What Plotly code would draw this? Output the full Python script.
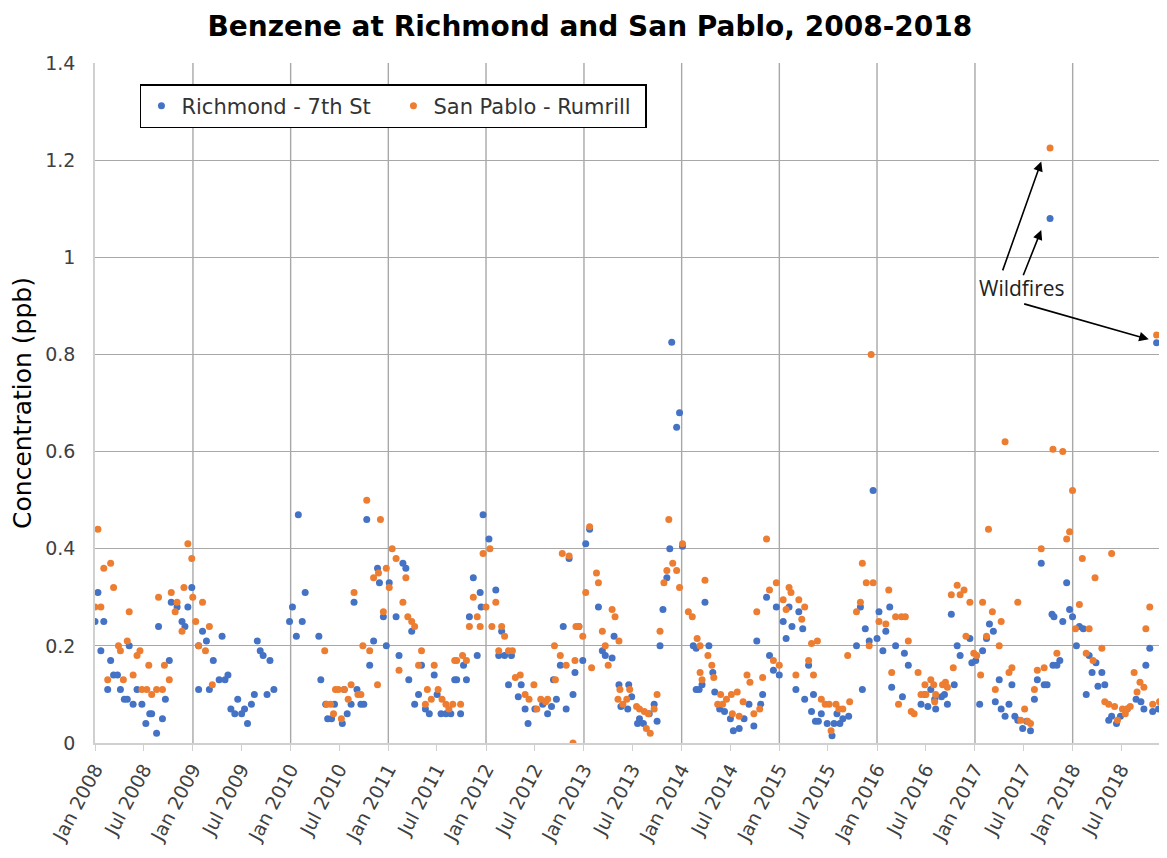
import pandas as pd
import plotly.graph_objects as go

# ---- data (decimal year, concentration ppb) ----
richmond_t = [
2008.03,2008.00,2008.09,2008.06,2008.16,2008.35,2008.19,2008.23,2008.13,2008.26,2008.30,2008.33,2008.39,2008.48,2008.43,
2008.56,2008.58,2008.52,2008.63,2008.69,2008.72,2008.76,2008.65,2008.78,2008.84,2008.95,2008.89,2008.92,2008.99,2009.06,
2009.10,2009.14,2009.21,2009.06,2009.17,
2009.30,2009.27,2009.33,2009.36,2009.46,2009.39,2009.43,2009.50,2009.53,2009.56,2009.60,2009.63,2009.66,2009.69,2009.72,
2009.79,2009.76,2009.83,2010.08,2010.02,2009.99,2010.15,2010.12,2010.06,2010.29,2010.31,2010.36,2010.38,2010.42,
2010.78,2010.89,2010.91,2011.01,2011.15,2011.18,2010.65,2010.95,2011.08,2011.24,2010.85,2010.98,2011.11,2010.81,2011.21,
2011.34,2011.47,2011.68,2011.31,2011.27,2011.50,2011.38,2011.42,2011.54,2011.59,2011.64,2010.55,2010.68,2010.62,2010.72,
2010.75,2010.53,2010.58,2010.45,
2011.97,2012.03,2011.87,2011.94,2011.95,2012.10,2011.83,2012.16,2011.91,2012.13,2012.19,2012.26,2011.77,2011.70,2011.80,
2011.74,2012.23,2012.36,2012.33,2012.40,2012.43,2012.50,2012.58,2012.63,2012.67,2012.72,2012.82,2012.89,2012.79,2012.85,
2012.76,2012.69,2012.91,
2013.98,2013.95,2013.06,2013.02,2013.88,2014.01,2013.85,2013.15,2013.81,2012.95,2013.31,2013.78,2013.19,2013.22,2013.29,
2012.99,2013.36,2013.46,2013.49,2013.38,2013.45,2013.57,2013.55,2013.61,2013.67,2013.72,2013.75,2014.12,2014.15,2013.90,
2014.24,2014.28,2014.15,2014.32,2014.18,2014.21,2014.34,2014.39,2014.44,2014.50,2014.53,2014.59,2014.64,2014.69,2014.74,
2014.81,2014.83,2014.77,2014.87,2014.90,2014.94,2015.00,2014.97,2015.04,2015.10,2015.07,2015.13,2015.20,2015.24,2015.17,
2015.30,2015.26,2015.35,2015.33,2015.37,
2015.96,2015.83,2016.02,2016.13,2015.88,2016.09,2016.00,2015.92,2015.79,2016.06,2016.19,2016.28,2016.32,2016.15,2016.26,
2015.85,2015.43,2015.40,2015.49,2015.56,2015.62,2015.59,2015.65,2015.71,2015.54,2016.45,2016.52,2016.49,2016.55,2016.60,
2016.59,
2017.68,2016.76,2017.15,2017.19,2017.12,2016.95,2016.82,2016.85,2017.08,2016.97,2017.01,2016.79,2016.72,2016.66,2016.69,
2017.05,2017.25,2017.21,2017.27,2017.38,2017.35,2017.31,2017.41,2017.44,2017.49,2017.57,2017.53,2017.61,2017.64,2017.71,
2017.79,2017.80,2017.77,
2017.94,2017.97,2017.81,2017.90,2018.00,2018.07,2018.11,2018.04,2017.87,2017.84,2017.74,2018.17,2018.24,2018.20,2018.30,
2018.26,2018.33,2018.14,2018.40,2018.37,2018.45,2018.49,2018.56,2018.65,2018.70,2018.73,2018.82,2018.88,2018.75,2018.79,
2018.92,2018.96,2018.86,
]
richmond_ppb = [
0.31,0.25,0.25,0.19,0.17,0.20,0.14,0.14,0.11,0.11,0.09,0.09,0.08,0.08,0.11,
0.06,0.06,0.04,0.02,0.05,0.09,0.17,0.24,0.29,0.28,0.28,0.25,0.24,0.32,0.20,
0.23,0.21,0.17,0.11,0.11,
0.22,0.13,0.13,0.14,0.09,0.07,0.06,0.06,0.07,0.04,0.08,0.10,0.21,0.19,0.18,
0.17,0.10,0.11,0.47,0.28,0.25,0.31,0.25,0.22,0.22,0.13,0.08,0.05,0.05,
0.46,0.36,0.33,0.33,0.37,0.36,0.29,0.26,0.26,0.23,0.21,0.20,0.18,0.16,0.13,
0.16,0.14,0.13,0.10,0.08,0.10,0.07,0.06,0.06,0.06,0.06,0.11,0.11,0.08,0.08,
0.08,0.04,0.06,0.08,
0.47,0.42,0.34,0.31,0.28,0.315,0.26,0.23,0.18,0.18,0.18,0.18,0.16,0.13,0.13,
0.06,0.12,0.12,0.095,0.07,0.04,0.07,0.08,0.06,0.075,0.09,0.07,0.10,0.24,0.38,
0.16,0.13,0.145,
0.68,0.65,0.44,0.41,0.40,0.405,0.34,0.28,0.275,0.24,0.22,0.20,0.19,0.18,0.175,
0.17,0.12,0.12,0.095,0.075,0.07,0.05,0.04,0.04,0.06,0.08,0.045,0.20,0.11,0.825,
0.29,0.20,0.195,0.145,0.11,0.12,0.105,0.07,0.065,0.05,0.025,0.03,0.05,0.08,0.035,
0.08,0.10,0.21,0.30,0.18,0.15,0.14,0.28,0.25,0.28,0.215,0.24,0.27,0.235,0.11,
0.16,0.09,0.10,0.065,0.045,
0.52,0.28,0.27,0.28,0.235,0.23,0.215,0.21,0.20,0.19,0.20,0.185,0.16,0.115,0.095,
0.11,0.06,0.045,0.04,0.04,0.04,0.06,0.05,0.055,0.015,0.08,0.075,0.10,0.11,0.07,
0.09,
0.37,0.265,0.245,0.23,0.215,0.215,0.20,0.18,0.19,0.165,0.17,0.12,0.08,0.095,0.10,
0.08,0.13,0.085,0.07,0.12,0.08,0.055,0.055,0.047,0.03,0.025,0.045,0.09,0.13,0.12,
0.265,0.16,1.08,
0.33,0.275,0.26,0.25,0.26,0.24,0.235,0.20,0.17,0.16,0.12,0.18,0.165,0.145,0.145,
0.117,0.12,0.10,0.055,0.047,0.04,0.055,0.07,0.09,0.085,0.07,0.065,0.07,0.16,0.195,
0.19,0.17,0.824,
]

sanpablo_t = [
2008.03,2008.09,2008.16,2008.19,2008.00,2008.06,2008.35,2008.65,2008.78,2008.84,2008.82,2008.91,2008.95,2008.99,2009.00,
2009.10,2009.03,2009.17,2008.89,2008.33,2008.24,2008.26,2008.43,2008.46,2008.55,2008.71,2008.39,2008.13,2008.29,2008.76,
2008.48,2008.53,2008.58,2008.63,2008.69,2009.06,2009.13,2009.20,
2010.35,2010.46,2010.37,2010.41,2010.44,
2010.78,2010.92,2011.04,2011.08,2010.98,2010.90,2010.85,2011.18,2011.01,2010.65,2011.15,2010.95,2011.20,2011.24,2011.27,
2010.74,2010.81,2011.34,2011.31,2011.47,2011.11,2010.89,2010.62,2010.49,2010.55,2010.69,2010.72,2011.40,2011.51,2011.44,
2011.38,2011.55,2011.59,2011.62,2011.68,2010.52,2010.59,2011.66,
2011.97,2012.04,2011.87,2011.91,2012.00,2012.10,2011.83,2011.94,2012.06,2012.16,2012.19,2012.13,2012.23,2012.27,2011.76,
2011.70,2011.80,2011.74,2012.30,2012.35,2012.40,2012.44,2012.49,2012.52,2012.56,2012.61,2012.63,2012.78,2012.85,2012.70,
2012.76,2012.82,2012.71,2012.92,2012.91,2012.89,
2013.06,2013.13,2013.15,2013.02,2013.29,2013.32,2012.95,2012.99,2013.19,2013.36,2013.22,2013.08,2013.25,2013.37,2013.35,
2013.40,2013.44,2013.47,2013.54,2013.57,2013.62,2013.66,2013.64,2013.68,2013.72,2013.75,2013.87,2014.01,2013.91,2013.85,
2013.95,2013.82,2013.98,2014.07,2014.11,2013.78,2014.16,2014.19,2014.19,
2014.24,2014.27,2014.31,2014.21,2014.33,2014.40,2014.46,2014.51,2014.57,2014.37,2014.42,2014.52,2014.59,2014.63,2014.74,
2014.67,2014.70,2014.83,2014.80,2014.77,2014.87,2014.90,2014.97,2015.04,2015.07,2015.10,2015.12,2015.20,2015.26,2015.23,
2014.94,2015.00,2015.17,2015.30,2015.33,2015.35,
2015.39,2015.43,2015.47,2015.51,2015.58,2015.61,2015.65,2015.72,2015.53,2015.70,2015.79,2015.83,2015.85,2015.89,2015.96,
2015.92,2016.02,2016.09,2016.12,2016.19,2016.25,2016.29,2016.32,2016.15,2016.22,2016.35,2016.38,2016.42,2016.49,2016.55,
2016.58,2016.45,2016.50,2015.94,
2017.31,2017.14,2017.68,2016.82,2016.89,2016.76,2016.85,2017.44,2016.95,2017.08,2017.18,2017.27,2016.91,2017.12,2017.25,
2016.99,2017.02,2016.78,2017.06,2017.38,2017.35,2017.21,2017.51,2017.54,2017.57,2017.47,2017.64,2017.71,2017.61,2016.60,
2016.67,2016.70,2016.72,2016.59,2017.77,
2017.80,2017.90,2018.00,2017.97,2017.94,2018.10,2018.40,2018.23,2018.07,2018.03,2018.17,2018.79,2018.75,2018.92,2018.30,
2017.84,2018.14,2018.21,2018.63,2018.69,2018.73,2018.66,2018.94,2018.82,2018.89,2018.33,2018.37,2018.43,2018.51,2018.56,
2018.59,2018.46,2018.54,2018.86,
]
sanpablo_ppb = [
0.44,0.36,0.37,0.32,0.28,0.28,0.27,0.30,0.31,0.29,0.27,0.32,0.41,0.38,0.30,
0.29,0.25,0.24,0.23,0.21,0.20,0.19,0.18,0.19,0.16,0.16,0.14,0.13,0.13,0.13,
0.11,0.11,0.10,0.11,0.11,0.20,0.19,0.12,
0.19,0.11,0.08,0.08,0.06,
0.50,0.46,0.40,0.38,0.36,0.35,0.34,0.34,0.32,0.31,0.29,0.27,0.26,0.25,0.24,
0.20,0.19,0.19,0.16,0.16,0.15,0.12,0.12,0.11,0.11,0.10,0.10,0.11,0.11,0.09,
0.08,0.09,0.08,0.07,0.17,0.05,0.09,0.08,
0.39,0.40,0.30,0.26,0.28,0.29,0.24,0.24,0.24,0.24,0.22,0.19,0.19,0.19,0.18,
0.17,0.17,0.08,0.135,0.14,0.10,0.09,0.12,0.07,0.09,0.085,0.09,0.39,0.385,0.20,
0.18,0.16,0.13,0.24,0.17,0.00,
0.445,0.35,0.33,0.31,0.275,0.26,0.24,0.22,0.23,0.21,0.20,0.155,0.16,0.11,0.09,
0.08,0.09,0.11,0.075,0.07,0.065,0.06,0.03,0.02,0.07,0.10,0.46,0.41,0.37,0.355,
0.355,0.33,0.32,0.27,0.26,0.23,0.215,0.20,0.145,
0.335,0.18,0.16,0.13,0.135,0.10,0.09,0.10,0.105,0.08,0.08,0.06,0.055,0.085,0.06,
0.14,0.125,0.135,0.07,0.27,0.42,0.315,0.33,0.295,0.275,0.32,0.31,0.295,0.28,0.255,
0.17,0.16,0.14,0.17,0.205,0.14,
0.21,0.09,0.08,0.08,0.08,0.07,0.07,0.085,0.025,0.18,0.27,0.29,0.37,0.33,0.33,
0.20,0.25,0.245,0.315,0.26,0.26,0.26,0.21,0.145,0.08,0.065,0.06,0.145,0.12,0.13,
0.12,0.10,0.10,0.80,
0.62,0.44,0.40,0.325,0.315,0.305,0.305,0.29,0.29,0.29,0.27,0.25,0.22,0.22,0.20,
0.185,0.18,0.155,0.14,0.155,0.145,0.11,0.07,0.045,0.04,0.047,0.15,0.155,0.11,0.10,
0.12,0.125,0.115,0.085,1.225,
0.605,0.60,0.52,0.435,0.42,0.38,0.39,0.34,0.285,0.235,0.235,0.28,0.235,0.215,0.195,
0.185,0.185,0.17,0.145,0.125,0.115,0.105,0.145,0.08,0.085,0.085,0.08,0.075,0.07,0.07,
0.075,0.047,0.06,0.84,
]

y_ticks = [0, 0.2, 0.4, 0.6, 0.8, 1, 1.2, 1.4]
y_tick_labels = ["0", "0.2", "0.4", "0.6", "0.8", "1", "1.2", "1.4"]
grid_years = list(range(2009, 2019))

BASE = pd.Timestamp("2008-01-01")


def to_date(t):
    return BASE + pd.to_timedelta((t - 2008.0) * 365.25, unit="D")


def dstr(t):
    return to_date(t).strftime("%Y-%m-%d %H:%M")


rich_dates = [to_date(t) for t in richmond_t]
sp_dates = [to_date(t) for t in sanpablo_t]

BLUE = "#4472C4"
ORANGE = "#ED7D31"
FONT = "DejaVu Sans"

fig = go.Figure()
fig.add_trace(go.Scatter(x=rich_dates, y=richmond_ppb, mode="markers",
                         name="Richmond - 7th St",
                         marker=dict(color=BLUE, size=7)))
fig.add_trace(go.Scatter(x=sp_dates, y=sanpablo_ppb, mode="markers",
                         name="San Pablo - Rumrill",
                         marker=dict(color=ORANGE, size=7)))

shapes = []
for yr in grid_years:
    shapes.append(dict(type="line", xref="x", yref="paper",
                       x0=f"{yr}-01-01", x1=f"{yr}-01-01", y0=0, y1=1,
                       line=dict(color="#a8a8a8", width=1.4), layer="below"))

annotations = [
    dict(x=dstr(2017.48), y=0.936, xref="x", yref="y", text="Wildfires",
         showarrow=False, font=dict(family="Open Sans", size=21, color="#222")),
]
arrows = [((2017.68, 1.197), (2017.28, 0.970)),
          ((2017.68, 1.056), (2017.49, 0.960)),
          ((2018.78, 0.831), (2017.49, 0.905))]
for (hx, hy), (tx, ty) in arrows:
    annotations.append(dict(x=dstr(hx), y=hy, ax=dstr(tx), ay=ty,
                            xref="x", yref="y", axref="x", ayref="y",
                            text="", showarrow=True, arrowhead=2,
                            arrowsize=1.2, arrowwidth=1.6, arrowcolor="black",
                            standoff=0, startstandoff=0))

# the page body adds an 8px margin, so the figure is 8px smaller on each side
fig.update_layout(
    width=1159, height=850,
    margin=dict(l=87, r=2, t=55, b=115, autoexpand=False),
    paper_bgcolor="white", plot_bgcolor="white",
    font=dict(family=FONT, size=19, color="#404040"),
    title=dict(text="Benzene at Richmond and San Pablo, 2008-2018",
               font=dict(family=FONT, size=28, color="black", weight="bold"),
               x=0.502, xref="container", xanchor="center",
               y=0.9788, yref="container", yanchor="middle"),
    showlegend=True,
    legend=dict(orientation="h", x=0.042, y=0.969, xanchor="left", yanchor="top",
                bgcolor="white", bordercolor="black", borderwidth=1.5,
                itemwidth=30, entrywidth=207, entrywidthmode="pixels",
                font=dict(family=FONT, size=21, color="#333")),
    shapes=shapes,
    annotations=annotations,
)

fig.update_xaxes(
    type="date", automargin=False,
    range=["2008-01-01", "2018-12-12"],
    dtick="M6", tick0="2008-01-01", tickformat="%b %Y",
    tickangle=-62, ticks="outside", ticklen=6, tickcolor="#d0d0d0",
    showgrid=False, zeroline=False,
    showline=True, linecolor="#d0d0d0", linewidth=1.5,
    tickfont=dict(family=FONT, size=19, color="#404040"),
)
fig.update_yaxes(
    automargin=False,
    range=[0, 1.4], tickvals=y_ticks, ticktext=y_tick_labels,
    showgrid=True, gridcolor="#a8a8a8", gridwidth=1.4,
    zeroline=False, showline=True, linecolor="#d0d0d0", linewidth=1.5,
    ticks="", ticklabelstandoff=14,
    tickfont=dict(family=FONT, size=19, color="#404040"),
    title=dict(text="Concentration (ppb)", standoff=8,
               font=dict(family=FONT, size=25, color="black")),
)

fig.write_html("out.html")
